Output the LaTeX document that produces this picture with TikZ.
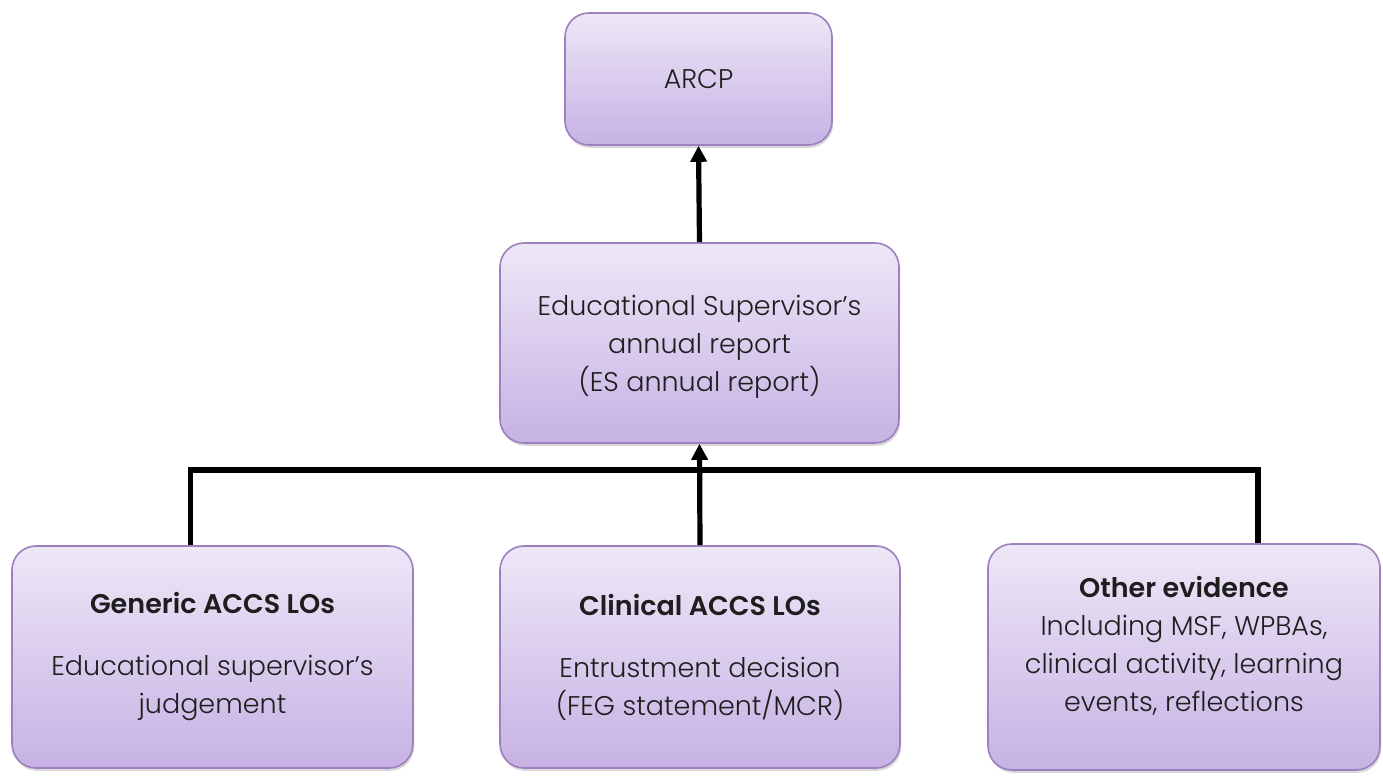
\documentclass[tikz,border=0pt]{standalone}
\usepackage{fontspec}
\setmainfont{Poppins}[UprightFont=* Light, BoldFont=* SemiBold]
\usetikzlibrary{arrows.meta,shadows}
\begin{document}
\begin{tikzpicture}[x=0.5pt, y=-0.5pt,
  box/.style={draw={rgb,255:red,158;green,128;blue,190}, line width=0.8pt,
    rounded corners=12pt, align=center, inner sep=0pt,
    top color={rgb,255:red,238;green,231;blue,247},
    bottom color={rgb,255:red,198;green,178;blue,228},
    text={rgb,255:red,30;green,30;blue,30}, font=\fontsize{13.5}{19}\selectfont,
    drop shadow={shadow xshift=0.6pt, shadow yshift=-1.4pt, opacity=0.3}},
  link/.style={line width=2.6pt, draw=black},
  arr/.style={link, -{Triangle[width=8pt,length=8pt]}}]
% Canvas
\useasboundingbox[fill=white] (0,0) rectangle (1383,778);
% Boxes
\node[box, minimum width=133.5pt, minimum height=66pt] (arcp) at (698.5,79) {ARCP};
\node[box, minimum width=199.5pt, minimum height=100pt, text depth=0pt] (esr) at (699.5,343)
  {Educational Supervisor’s\\annual report\\(ES annual report)};
\node[box, minimum width=200.5pt, minimum height=111pt] (generic) at (212.5,657)
  {\textbf{Generic ACCS LOs}\\[12pt]Educational supervisor’s\\judgement};
\node[box, minimum width=200pt, minimum height=111pt] (clinical) at (700,657)
  {\textbf{Clinical ACCS LOs}\\[12pt]Entrustment decision\\(FEG statement/MCR)};
\node[box, minimum width=196pt, minimum height=113pt, text depth=13pt] (other) at (1184,657)
  {\textbf{Other evidence}\\Including MSF, WPBAs,\\clinical activity, learning\\events, reflections};
% Connectors
\coordinate (hub) at (700,470);
\draw[link] ([xshift=-11pt]generic.north) |- (hub) -| ([xshift=37pt]other.north);
\draw[arr] (clinical.north) -- (esr.south);
\draw[arr] (esr.north) -- (arcp.south);
\end{tikzpicture}
\end{document}
